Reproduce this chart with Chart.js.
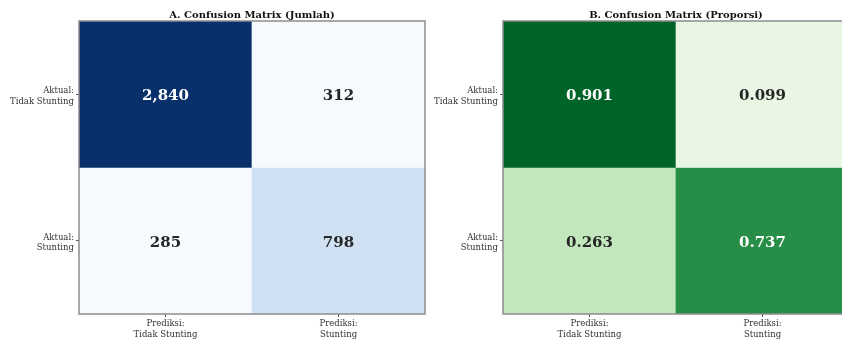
<!DOCTYPE html>
<html>
<head>
<meta charset="utf-8">
<script src="https://cdn.jsdelivr.net/npm/chart.js@4.4.1/dist/chart.umd.min.js"></script>
<style>
  html, body { margin: 0; padding: 0; background: #fff; }
  body { width: 842px; height: 342px; overflow: hidden; position: relative; }
  .panel { position: absolute; top: 0; height: 342px; width: 430px; }
  #panelA { left: 0; }
  #panelB { left: 430px; }
</style>
</head>
<body>
<div class="panel" id="panelA"><canvas id="countChart"></canvas></div>
<div class="panel" id="panelB"><canvas id="propChart"></canvas></div>
<script>
// Labels
const predLabels = [['Prediksi:', 'Tidak Stunting'], ['Prediksi:', 'Stunting']];
const actualLabels = [['Aktual:', 'Tidak Stunting'], ['Aktual:', 'Stunting']];

// Matrix values (rows = actual, cols = predicted)
const countRows = [[2840, 312], [285, 798]];
const propRows = [[0.901, 0.099], [0.263, 0.737]];

// Colormap stops
const bluesStops = ['#f7fbff', '#deebf7', '#c6dbef', '#9ecae1', '#6baed6', '#4292c6', '#2171b5', '#08519c', '#08306b'];
const greensStops = ['#f7fcf5', '#e5f5e0', '#c7e9c0', '#a1d99b', '#74c476', '#41ab5d', '#238b45', '#006d2c', '#00441b'];

const FONT = "'DejaVu Serif', 'Liberation Serif', serif";

function hexToRgb(h) {
    const n = parseInt(h.slice(1), 16);
    return [(n >> 16) & 255, (n >> 8) & 255, n & 255];
}

function colormap(stops, t) {
    t = Math.max(0, Math.min(1, t));
    const pos = t * (stops.length - 1);
    const i = Math.min(Math.floor(pos), stops.length - 2);
    const f = pos - i;
    const a = hexToRgb(stops[i]);
    const b = hexToRgb(stops[i + 1]);
    return a.map((v, k) => Math.round(v + (b[k] - v) * f));
}

function isDark(rgb) {
    const lum = (0.299 * rgb[0] + 0.587 * rgb[1] + 0.114 * rgb[2]) / 255;
    return lum < 0.5;
}

// Text inside each cell + frame around the plot area
const cellTextPlugin = {
    id: 'cellText',
    afterDatasetsDraw(chart) {
        const { ctx, chartArea } = chart;
        ctx.save();
        ctx.font = 'bold 15px ' + FONT;
        ctx.textAlign = 'center';
        ctx.textBaseline = 'middle';
        chart.data.datasets.forEach((ds, r) => {
            const meta = chart.getDatasetMeta(r);
            meta.data.forEach((el, c) => {
                ctx.fillStyle = ds.textColors[c];
                ctx.fillText(ds.texts[c], el.x, (el.y + el.base) / 2 + 2);
            });
        });
        ctx.strokeStyle = '#8c8c8c';
        ctx.lineWidth = 1.5;
        ctx.strokeRect(chartArea.left, chartArea.top, chartArea.right - chartArea.left, chartArea.bottom - chartArea.top);
        ctx.restore();
    }
};

function buildMatrix(canvasId, rows, stops, vmin, vmax, title, format, yWidth, padRight) {
    const datasets = rows.map((row, r) => {
        const cellRgb = row.map(v => colormap(stops, (v - vmin) / (vmax - vmin)));
        return {
            data: row.map(() => [r, r + 1]),
            texts: row.map(v => format(v)),
            textColors: cellRgb.map(c => isDark(c) ? '#ffffff' : '#262626'),
            backgroundColor: cellRgb.map(c => `rgb(${c[0]}, ${c[1]}, ${c[2]})`),
            borderWidth: 0,
            barPercentage: 1,
            categoryPercentage: 1,
            grouped: false
        };
    });

    new Chart(document.getElementById(canvasId), {
        type: 'bar',
        data: { labels: predLabels, datasets: datasets },
        plugins: [cellTextPlugin],
        options: {
            responsive: true,
            maintainAspectRatio: false,
            animation: false,
            events: [],
            layout: { padding: { left: 0, right: padRight, top: 0, bottom: 0 } },
            plugins: {
                legend: { display: false },
                tooltip: { enabled: false },
                title: {
                    display: true,
                    text: title,
                    fullSize: false,
                    color: '#111',
                    font: { family: FONT, size: 10, weight: 'bold' },
                    padding: { top: 9, bottom: 0 }
                }
            },
            scales: {
                x: {
                    type: 'category',
                    offset: true,
                    border: { display: false },
                    grid: { offset: false, drawOnChartArea: false, drawTicks: true, tickLength: 3, tickColor: '#555' },
                    ticks: {
                        color: '#333',
                        font: { family: FONT, size: 8.5 },
                        padding: 2,
                        maxRotation: 0,
                        autoSkip: false
                    },
                    afterFit(axis) { axis.height = 28; }
                },
                y: {
                    type: 'linear',
                    min: 0,
                    max: 2,
                    reverse: true,
                    border: { display: false },
                    grid: { drawOnChartArea: false, drawTicks: true, tickLength: 3, tickColor: '#555' },
                    afterBuildTicks(axis) {
                        axis.ticks = actualLabels.map((_, i) => ({ value: i + 0.5 }));
                    },
                    ticks: {
                        color: '#333',
                        font: { family: FONT, size: 8.5 },
                        padding: 2,
                        labelOffset: 2,
                        callback: (v) => actualLabels[Math.floor(v)]
                    },
                    afterFit(axis) { axis.width = yWidth; }
                }
            }
        }
    });
}

buildMatrix('countChart', countRows, bluesStops, 285, 2840,
    'A. Confusion Matrix (Jumlah)', v => v.toLocaleString('en-US'), 79, 5);

buildMatrix('propChart', propRows, greensStops, 0, 1,
    'B. Confusion Matrix (Proporsi)', v => v.toFixed(3), 73, 11);
</script>
</body>
</html>
